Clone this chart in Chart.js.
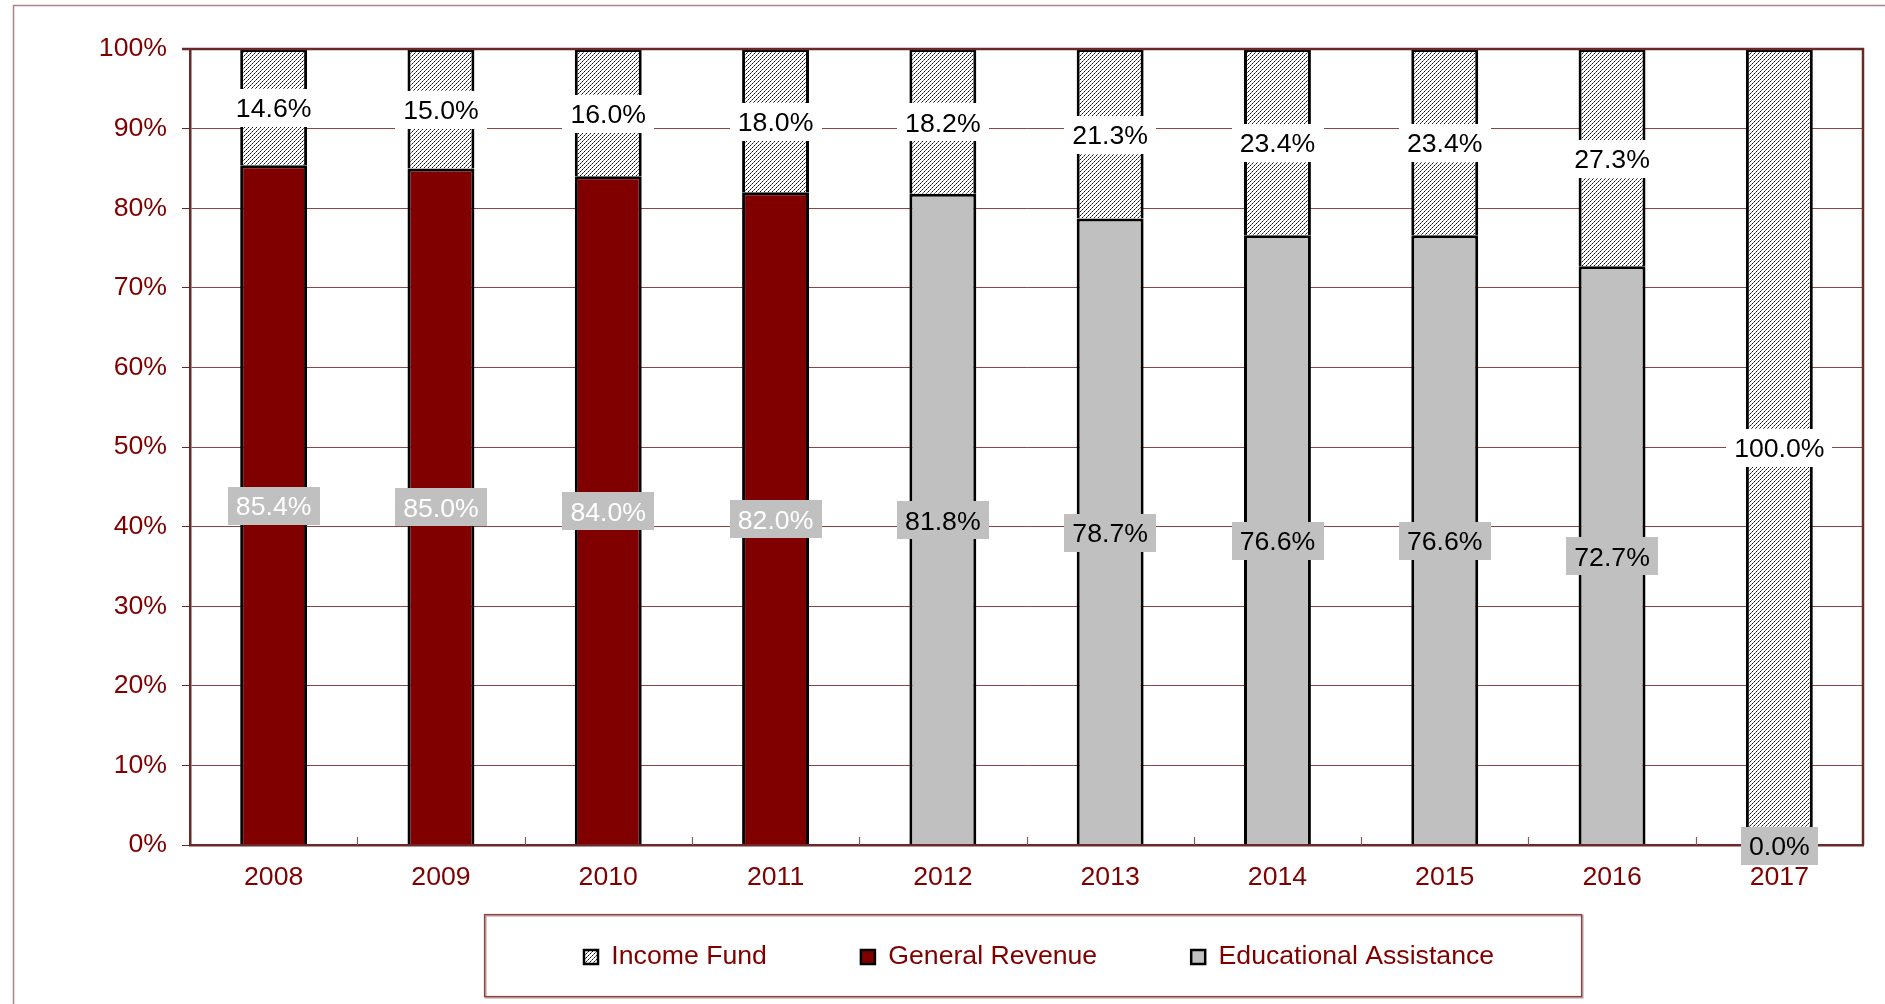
<!DOCTYPE html>
<html>
<head>
<meta charset="utf-8">
<script src="https://cdn.jsdelivr.net/npm/chart.js@4.4.0/dist/chart.umd.min.js"></script>
<style>
  html, body { margin: 0; padding: 0; background: #ffffff; }
  #wrap { position: relative; width: 1885px; height: 1004px; }
</style>
</head>
<body>
<div id="wrap"><canvas id="chart"></canvas></div>
<script>
// ---------- data ----------
const years = ['2008', '2009', '2010', '2011', '2012', '2013', '2014', '2015', '2016', '2017'];
const incomeFund = [14.6, 15.0, 16.0, 18.0, 18.2, 21.3, 23.4, 23.4, 27.3, 100.0];
const generalRevenue = [85.4, 85.0, 84.0, 82.0, null, null, null, null, null, null];
const educationalAssistance = [null, null, null, null, 81.8, 78.7, 76.6, 76.6, 72.7, 0.0];
const yTickLabels = ['0%', '10%', '20%', '30%', '40%', '50%', '60%', '70%', '80%', '90%', '100%'];
const seriesNames = ['Income Fund', 'General Revenue', 'Educational Assistance'];

// ---------- styles ----------
const FONT = '"Liberation Sans", Arial, Helvetica, sans-serif';
const FONT_SIZE = 26.67;
const TEXT_RED = '#800000';
const AXIS_COLOR = '#6b2828';
const GRID_COLOR = '#8c4444';
const GR_COLOR = '#800000';
const EA_COLOR = '#c0c0c0';

function makeHatch() {
  const c = document.createElement('canvas');
  c.width = 4; c.height = 4;
  const g = c.getContext('2d');
  g.fillStyle = '#ffffff';
  g.fillRect(0, 0, 4, 4);
  const shades = ['#111111', '#6e6e6e', '#111111', '#6e6e6e'];
  for (let i = 0; i < 4; i++) { g.fillStyle = shades[i]; g.fillRect(i, 3 - i, 1, 1); }
  return document.getElementById('chart').getContext('2d').createPattern(c, 'repeat');
}
const hatch = makeHatch();

// legend order: Income Fund, General Revenue, Educational Assistance
const legendRank = { 'Income Fund': 0, 'General Revenue': 1, 'Educational Assistance': 2 };

// ---------- plugins ----------
const LEG_H = 100;
const legendShim = {
  id: 'legendShim',
  beforeLayout(chart) {
    const lg = chart.legend;
    if (lg && !lg._shimmed) {
      const fit0 = lg.fit.bind(lg);
      lg.fit = function () { fit0(); this.height = LEG_H; };
      lg._shimmed = true;
    }
  },
  afterLayout(chart) {
    const lg = chart.legend;
    if (!lg) return;
    const P = lg.options.labels.padding;
    const x0 = (lg.left + P + lg.right - lg.lineWidths[0]) / 2;
    const dx = 584 - x0;
    lg.left += dx; lg.right += dx;
    lg.top = chart.chartArea.bottom + 112 - P - FONT_SIZE / 2;
    lg.bottom = chart.height;
  }
};

const decor = {
  id: 'decor',
  afterDraw(chart) {
    const ctx = chart.ctx;
    const ca = chart.chartArea;
    const xs = chart.scales.x;
    ctx.save();
    // outer frame
    ctx.strokeStyle = '#ad8585';
    ctx.lineWidth = 1.5;
    ctx.beginPath();
    ctx.moveTo(13.5, 1010);
    ctx.lineTo(13.5, 5.5);
    ctx.lineTo(1890, 5.5);
    ctx.stroke();
    // plot top and right border
    ctx.strokeStyle = AXIS_COLOR;
    ctx.lineWidth = 2.5;
    ctx.beginPath();
    ctx.moveTo(ca.left - 8, ca.top);
    ctx.lineTo(ca.right, ca.top);
    ctx.lineTo(ca.right, ca.bottom);
    ctx.stroke();
    // inside tick marks between categories
    ctx.strokeStyle = '#8a5a5a';
    ctx.lineWidth = 1.2;
    ctx.beginPath();
    for (let i = 1; i < years.length; i++) {
      const px = Math.round(xs.getPixelForValue(i - 0.5)) + 0.5;
      ctx.moveTo(px, ca.bottom);
      ctx.lineTo(px, ca.bottom - 8);
    }
    ctx.stroke();
    // legend frame
    ctx.strokeStyle = '#b79a9a';
    ctx.lineWidth = 2;
    ctx.strokeRect(485.5, 915.5, 1097, 82);
    ctx.strokeStyle = '#8b4444';
    ctx.lineWidth = 1.2;
    ctx.strokeRect(484.5, 914.5, 1097, 82);
    ctx.restore();
  }
};

const valueLabels = {
  id: 'valueLabels',
  afterDraw(chart) {
    const ctx = chart.ctx;
    ctx.save();
    ctx.font = FONT_SIZE + 'px ' + FONT;
    ctx.textAlign = 'center';
    ctx.textBaseline = 'middle';
    chart.data.datasets.forEach((ds, di) => {
      const meta = chart.getDatasetMeta(di);
      if (meta.hidden) return;
      meta.data.forEach((el, i) => {
        const v = ds.data[i];
        if (v === null || v === undefined) return;
        const p = el.getProps(['x', 'y', 'base'], true);
        const cy = (p.y + p.base) / 2;
        const txt = v.toFixed(1) + '%';
        const w = ctx.measureText(txt).width + 16;
        const h = 38;
        ctx.fillStyle = ds.labelBg;
        ctx.fillRect(Math.round(p.x - w / 2), Math.round(cy - h / 2 + 1), Math.round(w), h);
        ctx.fillStyle = ds.labelColor;
        ctx.fillText(txt, p.x, cy + 3);
      });
    });
    ctx.restore();
  }
};

// ---------- chart ----------
new Chart(document.getElementById('chart'), {
  type: 'bar',
  data: {
    labels: years,
    datasets: [
      {
        label: seriesNames[1], data: generalRevenue,
        backgroundColor: GR_COLOR, borderColor: '#000000', borderWidth: 3,
        labelBg: EA_COLOR, labelColor: '#ffffff'
      },
      {
        label: seriesNames[2], data: educationalAssistance,
        backgroundColor: EA_COLOR, borderColor: '#000000', borderWidth: 3,
        labelBg: EA_COLOR, labelColor: '#000000'
      },
      {
        label: seriesNames[0], data: incomeFund,
        backgroundColor: hatch, borderColor: '#000000', borderWidth: 3,
        labelBg: '#ffffff', labelColor: '#000000'
      }
    ]
  },
  options: {
    responsive: true,
    maintainAspectRatio: false,
    animation: false,
    devicePixelRatio: 1,
    datasets: { bar: { categoryPercentage: 0.8, barPercentage: 0.5 } },
    layout: { padding: { left: 90, right: 22, top: 49, bottom: 9 } },
    scales: {
      x: {
        stacked: true,
        grid: { display: false, drawTicks: false },
        border: { display: true, color: AXIS_COLOR, width: 2.5, z: 1 },
        ticks: { color: TEXT_RED, font: { family: FONT, size: FONT_SIZE }, padding: 17, maxRotation: 0 },
        afterFit(scale) { scale.height = 50; }
      },
      y: {
        stacked: true,
        min: 0, max: 100,
        grid: { color: GRID_COLOR, lineWidth: 1, tickLength: 8, tickColor: AXIS_COLOR },
        border: { display: true, color: AXIS_COLOR, width: 2.5, z: 1 },
        ticks: {
          stepSize: 10, color: TEXT_RED, padding: 15,
          font: { family: FONT, size: FONT_SIZE },
          callback: (v) => yTickLabels[Math.round(v / 10)]
        },
        afterFit(scale) { scale.width = 100; }
      }
    },
    plugins: {
      tooltip: { enabled: false },
      legend: {
        position: 'bottom',
        labels: {
          color: TEXT_RED,
          font: { family: FONT, size: FONT_SIZE },
          boxWidth: 14, boxHeight: 14,
          padding: 94,
          sort: (a, b) => legendRank[a.text] - legendRank[b.text],
          generateLabels(chart) {
            const items = Chart.defaults.plugins.legend.labels.generateLabels(chart);
            items.forEach(it => { it.lineWidth = 2.5; it.strokeStyle = '#000000'; });
            return items;
          }
        }
      }
    }
  },
  plugins: [legendShim, decor, valueLabels]
});
</script>
</body>
</html>
